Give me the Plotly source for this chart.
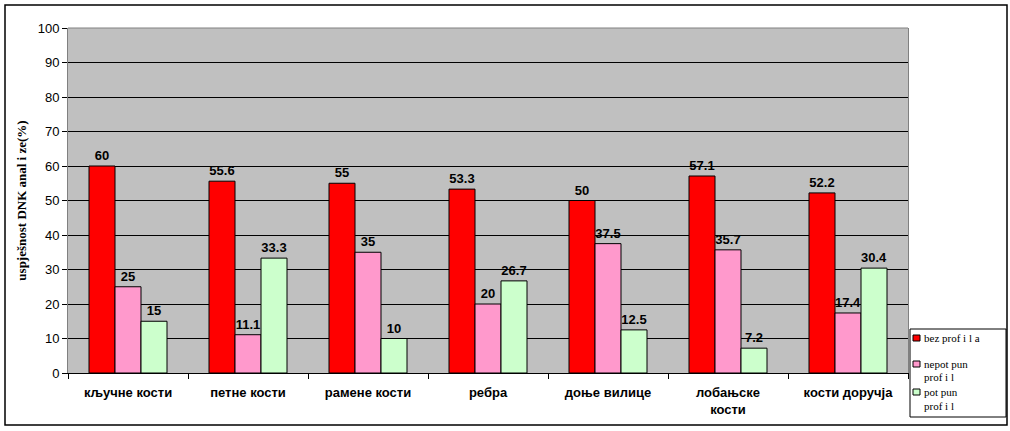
import plotly.graph_objects as go

categories = ["кључне кости", "петне кости", "рамене кости", "ребра", "доње вилице", "лобањске<br>кости", "кости доручја"]
bez_profila = [60, 55.6, 55, 53.3, 50, 57.1, 52.2]
nepotpun_profil = [25, 11.1, 35, 20, 37.5, 35.7, 17.4]
potpun_profil = [15, 33.3, 10, 26.7, 12.5, 7.2, 30.4]
series_names = ["bez prof i l a", "nepot pun<br>prof i l", "pot pun<br>prof i l"]
colors = ["#FF0000", "#FF99CC", "#CCFFCC"]
y_ticks = list(range(0, 101, 10))

L, R, T, B = 68, 102, 28, 58
W, H = 1010, 431
PW, PH = W - L - R, H - T - B


def px(x):
    return (x - L) / PW


def py(y):
    return (H - B - y) / PH


fig = go.Figure()
for name, vals, col in zip(series_names, [bez_profila, nepotpun_profil, potpun_profil], colors):
    fig.add_trace(go.Bar(
        x=categories, y=vals, name=name,
        marker=dict(color=col, line=dict(color="black", width=1)),
        text=[f"{v:g}" for v in vals], texttemplate="<b>%{text}</b>", textposition="outside",
        textfont=dict(family="Arial, Liberation Sans", size=13, color="black"),
        cliponaxis=False, showlegend=False,
    ))

shapes = [
    dict(type="rect", xref="paper", yref="paper",
         x0=px(5), x1=px(1007), y0=py(425), y1=py(5),
         line=dict(color="black", width=1.5), fillcolor="rgba(0,0,0,0)", layer="above"),
    dict(type="line", xref="paper", yref="paper", x0=0, x1=1, y0=1, y1=1,
         line=dict(color="#808080", width=1)),
    # legend box
    dict(type="rect", xref="paper", yref="paper",
         x0=px(910), x1=px(1006), y0=py(417), y1=py(329),
         line=dict(color="black", width=1), fillcolor="white", layer="above"),
]
annotations = []
legend_rows = [(338, [338]), (364, [364, 377]), (392, [392, 406])]
for (sy, line_ys), name, col in zip(legend_rows, series_names, colors):
    shapes.append(dict(type="rect", xref="paper", yref="paper",
                       x0=px(913), x1=px(920), y0=py(sy + 3), y1=py(sy - 3),
                       line=dict(color="black", width=1), fillcolor=col, layer="above"))
    for ly, part in zip(line_ys, name.split("<br>")):
        annotations.append(dict(xref="paper", yref="paper", x=px(922), y=py(ly),
                                xanchor="left", yanchor="middle", showarrow=False, align="left",
                                text=part,
                                font=dict(family="Liberation Serif, Times New Roman", size=11, color="black")))

fig.update_layout(
    width=W, height=H,
    margin=dict(l=L, r=R, t=T, b=B, autoexpand=False),
    paper_bgcolor="white", plot_bgcolor="#C0C0C0",
    barmode="group", bargap=0.35, bargroupgap=0,
    font=dict(family="Arial, Liberation Sans", color="black"),
    showlegend=False,
    yaxis=dict(
        range=[0, 100], tickvals=y_ticks, ticks="outside", ticklen=5, tickcolor="black",
        showgrid=True, gridcolor="black", gridwidth=1,
        showline=True, linecolor="#808080", mirror=True, zeroline=False,
        tickfont=dict(size=13, family="Arial, Liberation Sans"),
        title=dict(text="<b>uspješnost DNK anal i ze(%)</b>",
                   font=dict(family="Liberation Serif, Times New Roman", size=13), standoff=8),
    ),
    xaxis=dict(
        ticks="outside", tickson="boundaries", ticklen=5, tickcolor="black",
        showline=True, linecolor="black", mirror=False,
        tickfont=dict(size=13, family="Arial, Liberation Sans"),
        ticklabelstandoff=7,
    ),
    shapes=shapes,
    annotations=annotations,
)
fig.update_xaxes(tickprefix="<b>", ticksuffix="</b>")

fig.write_html("out.html")
